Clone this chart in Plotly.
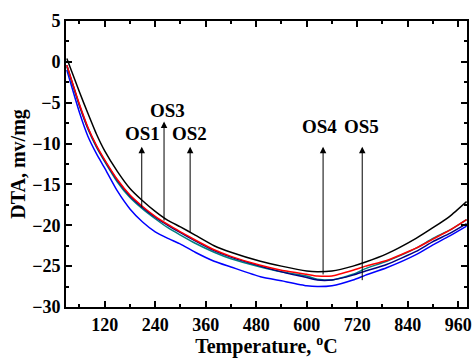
import plotly.graph_objects as go

temp = [30, 60, 80, 100, 120, 150, 180, 210, 240, 270, 300, 335, 380, 420, 490, 540,
        600, 625, 660, 710, 740, 790, 860, 900, 940, 980]

os_black = [0.4, -3.7, -6.3, -8.8, -10.9, -13.4, -15.5, -17.0, -18.3, -19.4, -20.2, -21.2,
            -22.5, -23.3, -24.4, -25.0, -25.6, -25.7, -25.6, -25.0, -24.5, -23.5, -21.6,
            -20.3, -18.9, -17.1]
os_red = [-0.4, -5.2, -8.0, -10.2, -12.0, -14.4, -16.3, -17.7, -18.9, -19.9, -20.8, -21.8,
          -23.0, -23.8, -24.9, -25.5, -26.0, -26.2, -26.2, -25.5, -25.0, -24.3, -22.8,
          -21.7, -20.6, -19.3]
os_navy = [-0.4, -5.3, -8.1, -10.3, -12.1, -14.5, -16.4, -17.8, -19.0, -20.0, -20.9, -21.9,
           -23.1, -23.9, -25.0, -25.7, -26.4, -26.7, -26.7, -26.1, -25.6, -24.8, -23.2,
           -22.0, -21.0, -19.8]
os_teal = [-0.6, -5.4, -8.2, -10.4, -12.2, -14.7, -16.6, -18.0, -19.2, -20.3, -21.2, -22.2,
           -23.3, -24.1, -25.1, -25.7, -26.2, -26.6, -26.7, -26.0, -25.3, -24.4, -22.8,
           -21.6, -20.6, -19.3]
os_blue = [-1.0, -6.2, -9.1, -11.2, -13.0, -15.8, -18.0, -19.6, -20.8, -21.6, -22.3, -23.3,
           -24.4, -25.1, -26.3, -26.8, -27.4, -27.5, -27.4, -26.7, -26.1, -25.2, -23.6,
           -22.4, -21.3, -20.1]

series = [
    ("blue", os_blue, "#0000ff"),
    ("teal", os_teal, "#008080"),
    ("navy", os_navy, "#000080"),
    ("red", os_red, "#ff0000"),
    ("black", os_black, "#000000"),
]

# arrows and their labels
labels = ["OS1", "OS3", "OS2", "OS4", "OS5"]
arrow_x = [208, 261, 323, 639, 732]
arrow_tail = [-18.0, -19.6, -21.0, -26.2, -26.9]
arrow_head = [-10.4, -7.3, -10.4, -10.4, -10.4]
label_x = [210, 270, 321, 630, 730]
label_y = [-8.8, -5.95, -8.8, -7.95, -7.95]

font_family = "Liberation Serif, Times New Roman, serif"

fig = go.Figure()
for name, vals, col in series:
    fig.add_trace(go.Scatter(x=temp, y=vals, mode="lines", name=name,
                             line=dict(color=col, width=1.5, shape="spline", smoothing=0.5),
                             showlegend=False))

for i in range(len(labels)):
    fig.add_annotation(x=arrow_x[i], y=arrow_head[i], ax=arrow_x[i], ay=arrow_tail[i],
                       xref="x", yref="y", axref="x", ayref="y", text="",
                       showarrow=True, arrowhead=2, arrowsize=1.3, arrowwidth=1,
                       arrowcolor="black", standoff=0, startstandoff=0)
    fig.add_annotation(x=label_x[i], y=label_y[i], xref="x", yref="y", text="<b>%s</b>" % labels[i],
                       showarrow=False, font=dict(family=font_family, size=19, color="black"),
                       xanchor="center", yanchor="middle")

axis_common = dict(showline=True, linecolor="black", linewidth=2, mirror="ticks",
                   ticks="inside", ticklen=6, tickwidth=1.5, tickcolor="black",
                   showgrid=False, zeroline=False,
                   tickfont=dict(family=font_family, size=18, color="black"))

fig.update_xaxes(range=[28, 981], tick0=0, dtick=120,
                 minor=dict(ticks="inside", ticklen=3, tickwidth=1.5, tickcolor="black", dtick=60, tick0=0),
                 title=dict(text="<b>Temperature, <sup>o</sup>C</b>",
                            font=dict(family=font_family, size=20, color="black"), standoff=5),
                 tickprefix="<b>", ticksuffix="</b>", **axis_common)
fig.update_yaxes(range=[-30, 5], tick0=0, dtick=5,
                 minor=dict(ticks="inside", ticklen=3, tickwidth=1.5, tickcolor="black", dtick=2.5, tick0=0),
                 title=dict(text="<b>DTA, mv/mg</b>",
                            font=dict(family=font_family, size=20, color="black"), standoff=1),
                 tickprefix="<b>", ticksuffix="</b>", **axis_common)

fig.update_layout(width=476, height=358, margin=dict(l=66, r=4, t=21, b=47),
                  paper_bgcolor="white", plot_bgcolor="white")

fig.write_html("out.html")
